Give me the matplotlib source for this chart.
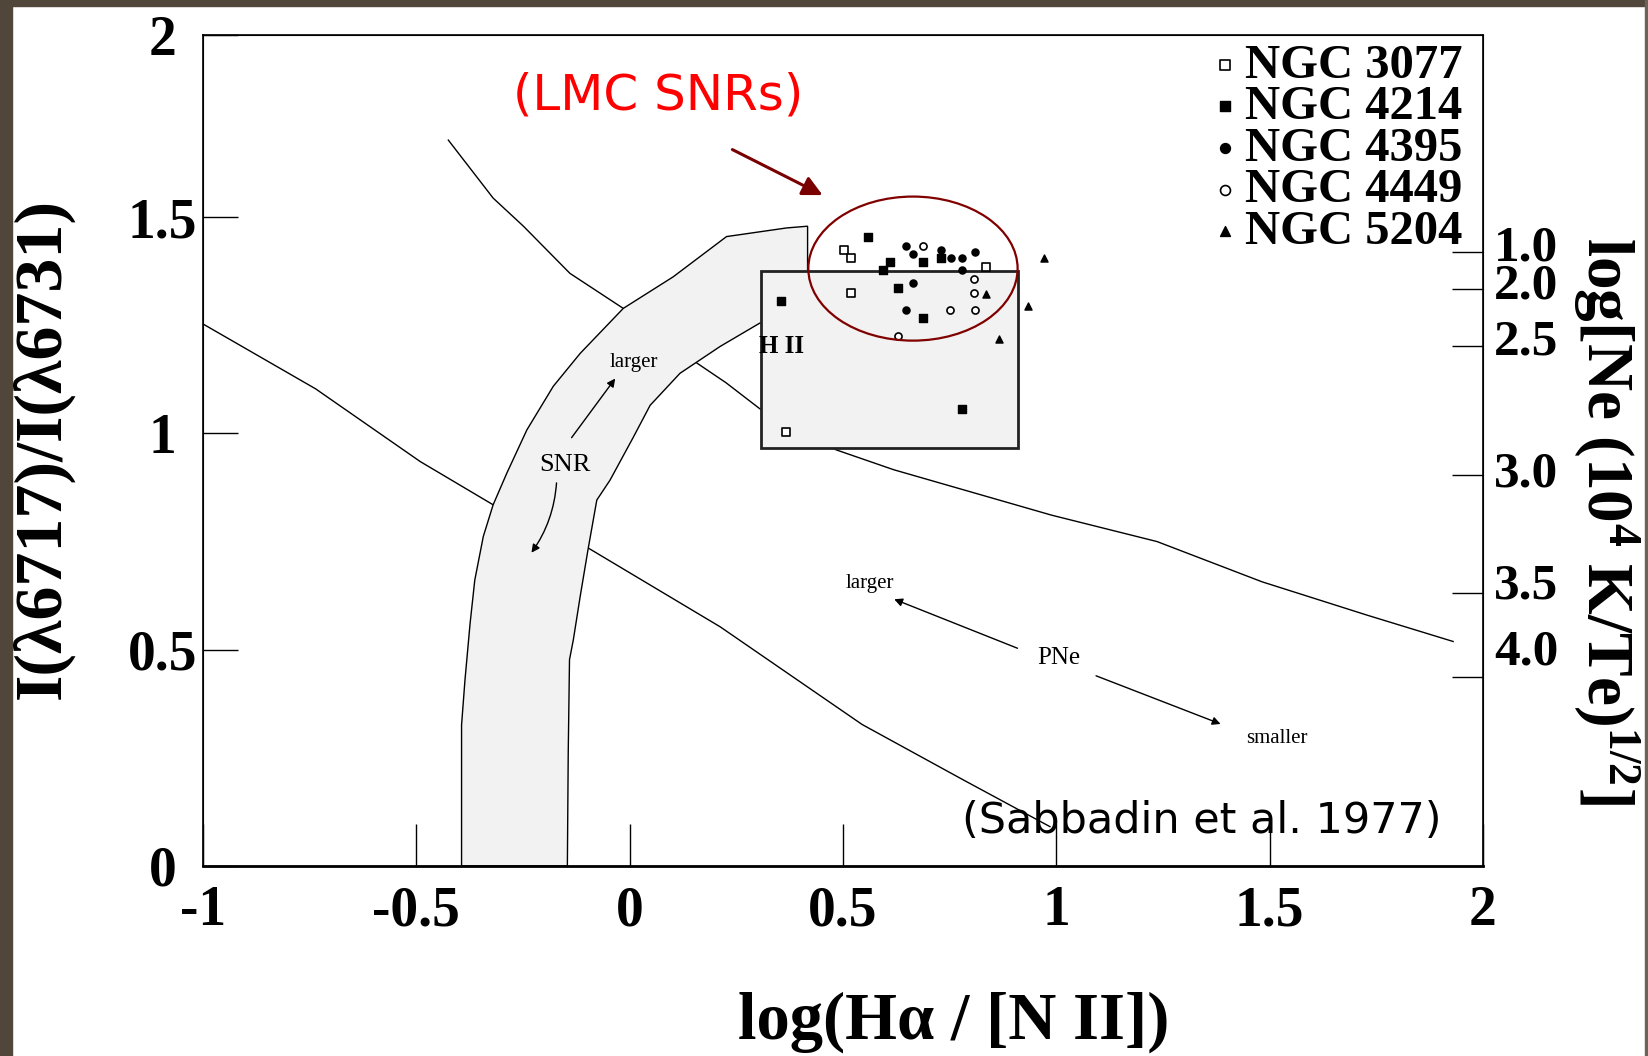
import numpy as np
import matplotlib.pyplot as plt
from matplotlib.patches import Ellipse, Rectangle

plt.rcParams['font.family'] = ['Liberation Serif', 'DejaVu Serif']
plt.rcParams['font.weight'] = 'bold'
plt.rcParams['mathtext.fontset'] = 'custom'
plt.rcParams['mathtext.rm'] = 'Liberation Serif:bold'
plt.rcParams['mathtext.it'] = 'Liberation Serif:bold'
plt.rcParams['mathtext.bf'] = 'Liberation Serif:bold'

# model curves (Sabbadin et al. 1977 diagnostic diagram)
curve_a_x = [-1.0, -0.736, -0.491, -0.320, -0.097, 0.212, 0.545, 0.782, 0.985]
curve_a_y = [1.253, 1.103, 0.935, 0.835, 0.735, 0.553, 0.327, 0.199, 0.091]
curve_b_x = [-0.425, -0.320, -0.249, -0.140, -0.015, 0.10, 0.184, 0.226, 0.305,
             0.484, 0.619, 0.989, 1.236, 1.482, 1.728, 1.93]
curve_b_y = [1.678, 1.544, 1.479, 1.370, 1.289, 1.201, 1.145, 1.117, 1.057,
             0.962, 0.916, 0.811, 0.750, 0.657, 0.580, 0.519]

# SNR band
snr_outer_x = [-0.394, -0.394, -0.386, -0.374, -0.363, -0.343, -0.320, -0.288, -0.241,
               -0.179, -0.116, -0.015, 0.102, 0.227, 0.368, 0.417]
snr_outer_y = [0.0, 0.326, 0.430, 0.561, 0.661, 0.762, 0.835, 0.908, 1.008,
               1.109, 1.185, 1.289, 1.362, 1.455, 1.475, 1.479]
snr_inner_x = [0.417, 0.417, 0.305, 0.212, 0.118, 0.048, 0.009, -0.046, -0.077,
               -0.097, -0.116, -0.132, -0.141, -0.144, -0.146]
snr_inner_y = [1.374, 1.259, 1.255, 1.201, 1.139, 1.065, 0.992, 0.892, 0.846,
               0.735, 0.623, 0.523, 0.477, 0.260, 0.0]

# HII region box
hii_x = [0.307, 0.909]
hii_y = [0.966, 1.376]

# galaxies
ngc3077_x = [0.502, 0.519, 0.519, 0.366, 0.834]
ngc3077_y = [1.425, 1.406, 1.324, 1.004, 1.385]
ngc4214_x = [0.559, 0.687, 0.729, 0.630, 0.355, 0.780, 0.687, 0.593, 0.610]
ngc4214_y = [1.454, 1.396, 1.406, 1.335, 1.305, 1.057, 1.266, 1.378, 1.396]
ngc4395_x = [0.648, 0.665, 0.729, 0.780, 0.809, 0.665, 0.648, 0.753, 0.780]
ngc4395_y = [1.434, 1.414, 1.425, 1.406, 1.420, 1.347, 1.285, 1.405, 1.378]
ngc4449_x = [0.687, 0.808, 0.808, 0.751, 0.809, 0.630]
ngc4449_y = [1.434, 1.357, 1.324, 1.285, 1.285, 1.226]
ngc5204_x = [0.971, 0.834, 0.934, 0.866]
ngc5204_y = [1.406, 1.323, 1.295, 1.218]

# LMC SNR ellipse: centre, width, height
lmc_center = (0.664, 1.381)
lmc_size = (0.4905, 0.333)

y_top = 1.921
x_ticks = [-1, -0.5, 0, 0.5, 1, 1.5, 2]
x_labels = ['-1', '-0.5', '0', '0.5', '1', '1.5', '2']
y_ticks = [0, 0.5, 1, 1.5, y_top]
y_labels = ['0', '0.5', '1', '1.5', '2']
ne_ticks = [1.419, 1.334, 1.201, 0.904, 0.632, 0.438]
ne_label_pos = [1.440, 1.353, 1.223, 0.917, 0.659, 0.506]
ne_labels = ['1.0', '2.0', '2.5', '3.0', '3.5', '4.0']

fig = plt.figure(figsize=(16.49, 10.56), dpi=100)
ax = fig.add_axes([203/1649, 1 - 866/1056, 1280/1649, 831/1056])
ax.set_xlim(-1, 2)
ax.set_ylim(0, y_top)

ax.plot(curve_a_x, curve_a_y, color='black', lw=1.0, zorder=1)
ax.plot(curve_b_x, curve_b_y, color='black', lw=1.0, zorder=1)

ax.fill(snr_outer_x + snr_inner_x, snr_outer_y + snr_inner_y,
        facecolor='#f2f2f2', edgecolor='black', lw=1.0, zorder=2)
ax.add_patch(Rectangle((hii_x[0], hii_y[0]), hii_x[1] - hii_x[0], hii_y[1] - hii_y[0],
                       facecolor='#f2f2f2', edgecolor='#222222', lw=2.0, zorder=3))

ms = 26
h1 = ax.scatter(ngc3077_x, ngc3077_y, marker='s', s=ms, facecolor='white',
                edgecolor='black', lw=1.2, zorder=5, label='NGC 3077')
h2 = ax.scatter(ngc4214_x, ngc4214_y, marker='s', s=ms, color='black', zorder=5,
                label='NGC 4214')
h3 = ax.scatter(ngc4395_x, ngc4395_y, marker='o', s=ms, color='black', zorder=5,
                label='NGC 4395')
h4 = ax.scatter(ngc4449_x, ngc4449_y, marker='o', s=ms, facecolor='white',
                edgecolor='black', lw=1.2, zorder=5, label='NGC 4449')
h5 = ax.scatter(ngc5204_x, ngc5204_y, marker='^', s=ms, color='black', zorder=5,
                label='NGC 5204')

leg = ax.legend(handles=[h1, h2, h3, h4, h5], loc='upper right', frameon=False,
                prop={'family': 'Liberation Serif', 'weight': 'bold', 'size': 35},
                labelspacing=-0.05, handletextpad=0.0, handlelength=0.8,
                borderaxespad=0.1, markerscale=1.4,
                bbox_to_anchor=(1.003, 1.019))

ax.add_patch(Ellipse(lmc_center, lmc_size[0], lmc_size[1], fill=False,
                     edgecolor='#800000', lw=1.6, zorder=6))

# annotations
ax.text(0.066, 1.780, '(LMC SNRs)', color='red', fontsize=36, fontweight='normal',
        family='DejaVu Sans', ha='center', va='center')
ax.annotate('', xy=(0.458, 1.548), xytext=(0.235, 1.659),
            arrowprops=dict(arrowstyle='-|>', color='#7a0000', lw=2.2, mutation_scale=30))
ax.text(1.34, 0.104, '(Sabbadin et al. 1977)', color='black', fontsize=31,
        fontweight='normal', family='DejaVu Sans', ha='center', va='center', zorder=7)

ax.text(0.357, 1.200, 'H II', fontsize=18, fontweight='bold', ha='center', va='center', zorder=6)
ax.text(-0.152, 0.927, 'SNR', fontsize=19, fontweight='normal', ha='center', va='center', zorder=6)
ax.text(0.009, 1.164, 'larger', fontsize=15, fontweight='normal', ha='center', va='center', zorder=6)
ax.annotate('', xy=(-0.030, 1.132), xytext=(-0.140, 0.985),
            arrowprops=dict(arrowstyle='-|>', color='black', lw=1.0, mutation_scale=12), zorder=6)
ax.annotate('', xy=(-0.234, 0.719), xytext=(-0.171, 0.892),
            arrowprops=dict(arrowstyle='-|>', color='black', lw=1.0, mutation_scale=12,
                            connectionstyle='arc3,rad=-0.15'), zorder=6)

ax.text(0.563, 0.653, 'larger', fontsize=15, fontweight='normal', ha='center', va='center')
ax.text(1.005, 0.480, 'PNe', fontsize=18, fontweight='normal', ha='center', va='center')
ax.text(1.516, 0.295, 'smaller', fontsize=15, fontweight='normal', ha='center', va='center')
ax.annotate('', xy=(0.614, 0.619), xytext=(0.915, 0.501),
            arrowprops=dict(arrowstyle='-|>', color='black', lw=1.0, mutation_scale=12))
ax.annotate('', xy=(1.391, 0.326), xytext=(1.087, 0.442),
            arrowprops=dict(arrowstyle='-|>', color='black', lw=1.0, mutation_scale=12))

# axes styling
ax.set_xticks(x_ticks)
ax.set_xticklabels(x_labels)
ax.set_yticks(y_ticks)
ax.set_yticklabels(y_labels, ha='center')
ax.tick_params(axis='x', direction='in', length=30, width=1.0, pad=14, labelsize=40)
ax.tick_params(axis='y', direction='in', length=25, width=1.0, pad=29, labelsize=40)
for s in ax.spines.values():
    s.set_linewidth(1.2)
ax.spines['bottom'].set_linewidth(2.0)

ax2 = ax.twinx()
ax2.set_ylim(0, y_top)
ax2.set_yticks(ne_ticks)
ax2.set_yticklabels([])
ax2.set_yticks(ne_label_pos, minor=True)
ax2.set_yticklabels(ne_labels, minor=True)
ax2.tick_params(axis='y', which='major', direction='in', length=22, width=1.0)
ax2.tick_params(axis='y', which='minor', length=0, pad=8, labelsize=37)

fig.text(43/1649, 1 - 448/1056, 'I(λ6717)/I(λ6731)', rotation=90, fontsize=49,
         fontweight='bold', ha='center', va='center')
fig.text(954/1649, 1 - 1022/1056, 'log(Hα / [N II])', fontsize=48,
         fontweight='bold', ha='center', va='center')
fig.text(1606/1649, 1 - 521/1056, r'log[Ne (10$^4$ K/Te)$^{1/2}$]', rotation=270,
         fontsize=47, fontweight='bold', ha='center', va='center')

# dark frame of the slide
fig.patches.append(Rectangle((0, 0), 12/1649, 1, transform=fig.transFigure,
                             color='#51463a', zorder=0))
fig.patches.append(Rectangle((0, 1 - 6/1056), 1, 6/1056, transform=fig.transFigure,
                             color='#51463a', zorder=0))
fig.patches.append(Rectangle((1 - 4/1649, 0), 4/1649, 1, transform=fig.transFigure,
                             color='#6b6258', zorder=0))

fig.savefig('out.png', dpi=100)
